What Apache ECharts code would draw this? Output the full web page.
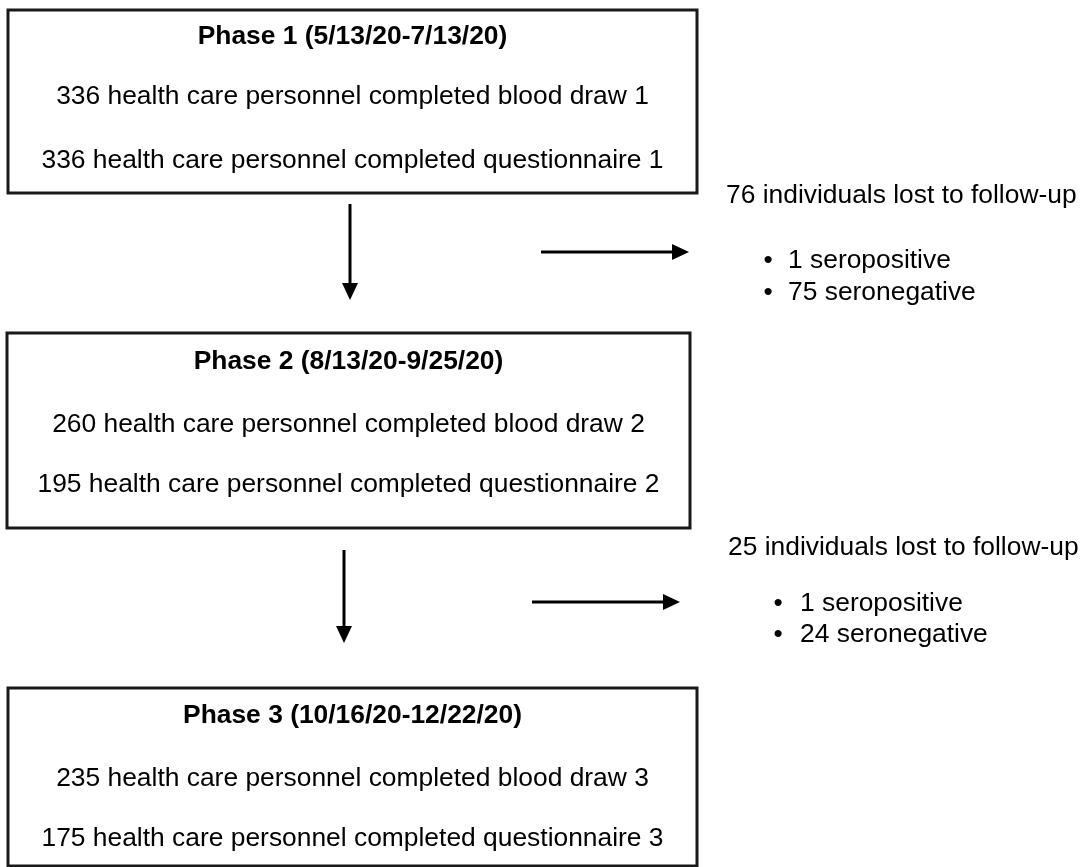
<!DOCTYPE html>
<html>
<head>
<meta charset="utf-8">
<title>Flow</title>
<script src="https://cdn.jsdelivr.net/npm/echarts@6/dist/echarts.min.js"></script>
<style>
  html, body { margin: 0; padding: 0; background: #fff; }
  #chart { width: 1089px; height: 867px; }
</style>
</head>
<body>
<div id="chart"></div>
<script>
// 数据
var phaseNames = ['Phase 1 (5/13/20-7/13/20)', 'Phase 2 (8/13/20-9/25/20)', 'Phase 3 (10/16/20-12/22/20)'];
var bloodDraw = [336, 260, 235];
var questionnaire = [336, 195, 175];
var lostTotal = [76, 25];
var lostSeropositive = [1, 1];
var lostSeronegative = [75, 24];

// 布局 (坐标轴单位)
var boxRects = [[8, 10, 697, 193], [7, 333, 690, 528], [8, 688, 697, 866]];
var boxLineY = [[37, 97, 161], [362, 425, 485], [716, 779, 839]];
var downArrows = [[350, 204, 350, 300], [344, 550, 344, 643]];
var sideArrows = [[541, 252, 689, 252], [532, 602, 680, 602]];
// [文字x, 文字y, 圆点x, 条目x, 条目1 y, 条目2 y]
var lostPos = [[726, 196, 768, 788, 261, 293], [728, 548, 778, 800, 604, 635]];

var FONT = 'Liberation Sans, Arial, sans-serif';
var FONT_SIZE = 26.4;
var INK = '#000';

//拼接文字
var texts = [];
for (var i = 0; i < phaseNames.length; i++) {
    var cx = (boxRects[i][0] + boxRects[i][2]) / 2;
    texts.push([cx, boxLineY[i][0], phaseNames[i], 'bold', 'center']);
    texts.push([cx, boxLineY[i][1], bloodDraw[i] + ' health care personnel completed blood draw ' + (i + 1), 'normal', 'center']);
    texts.push([cx, boxLineY[i][2], questionnaire[i] + ' health care personnel completed questionnaire ' + (i + 1), 'normal', 'center']);
}
for (var i = 0; i < lostTotal.length; i++) {
    var p = lostPos[i];
    texts.push([p[0], p[1], lostTotal[i] + ' individuals lost to follow-up', 'normal', 'left']);
    texts.push([p[2], p[4], '\u2022', 'normal', 'center']);
    texts.push([p[3], p[4], lostSeropositive[i] + ' seropositive', 'normal', 'left']);
    texts.push([p[2], p[5], '\u2022', 'normal', 'center']);
    texts.push([p[3], p[5], lostSeronegative[i] + ' seronegative', 'normal', 'left']);
}

function renderBox(params, api) {
    var a = api.coord([api.value(0), api.value(1)]);
    var b = api.coord([api.value(2), api.value(3)]);
    return {
        type: 'rect',
        shape: { x: a[0], y: a[1], width: b[0] - a[0], height: b[1] - a[1] },
        style: { fill: '#fff', stroke: '#1a1a1a', lineWidth: 3 }
    };
}

function renderArrow(params, api) {
    var a = api.coord([api.value(0), api.value(1)]);
    var b = api.coord([api.value(2), api.value(3)]);
    var dx = b[0] - a[0], dy = b[1] - a[1];
    var len = Math.sqrt(dx * dx + dy * dy);
    var ux = dx / len, uy = dy / len;
    var headLen = 17, headHalf = 8;
    var bx = b[0] - ux * headLen, by = b[1] - uy * headLen;
    return {
        type: 'group',
        children: [{
            type: 'line',
            shape: { x1: a[0], y1: a[1], x2: bx + ux * 2, y2: by + uy * 2 },
            style: { stroke: INK, lineWidth: 3 }
        }, {
            type: 'polygon',
            shape: { points: [[b[0], b[1]], [bx - uy * headHalf, by + ux * headHalf], [bx + uy * headHalf, by - ux * headHalf]] },
            style: { fill: INK }
        }]
    };
}

function renderText(params, api) {
    var p = api.coord([api.value(0), api.value(1)]);
    var d = texts[params.dataIndex];
    return {
        type: 'text',
        x: p[0],
        y: p[1],
        style: {
            text: d[2],
            fill: INK,
            fontFamily: FONT,
            fontSize: FONT_SIZE,
            fontWeight: d[3],
            align: d[4],
            verticalAlign: 'middle'
        }
    };
}

var chart = echarts.init(document.getElementById('chart'), null, { renderer: 'canvas' });
chart.setOption({
    backgroundColor: '#fff',
    animation: false,
    grid: { left: 0, right: 0, top: 0, bottom: 0 },
    xAxis: { type: 'value', min: 0, max: 1089, show: false },
    yAxis: { type: 'value', min: 0, max: 867, inverse: true, show: false },
    series: [
        { type: 'custom', renderItem: renderBox, data: boxRects, clip: false, silent: true },
        { type: 'custom', renderItem: renderArrow, data: downArrows.concat(sideArrows), clip: false, silent: true },
        { type: 'custom', renderItem: renderText, data: texts.map(function (t) { return [t[0], t[1]]; }), clip: false, silent: true }
    ]
});
</script>
</body>
</html>
